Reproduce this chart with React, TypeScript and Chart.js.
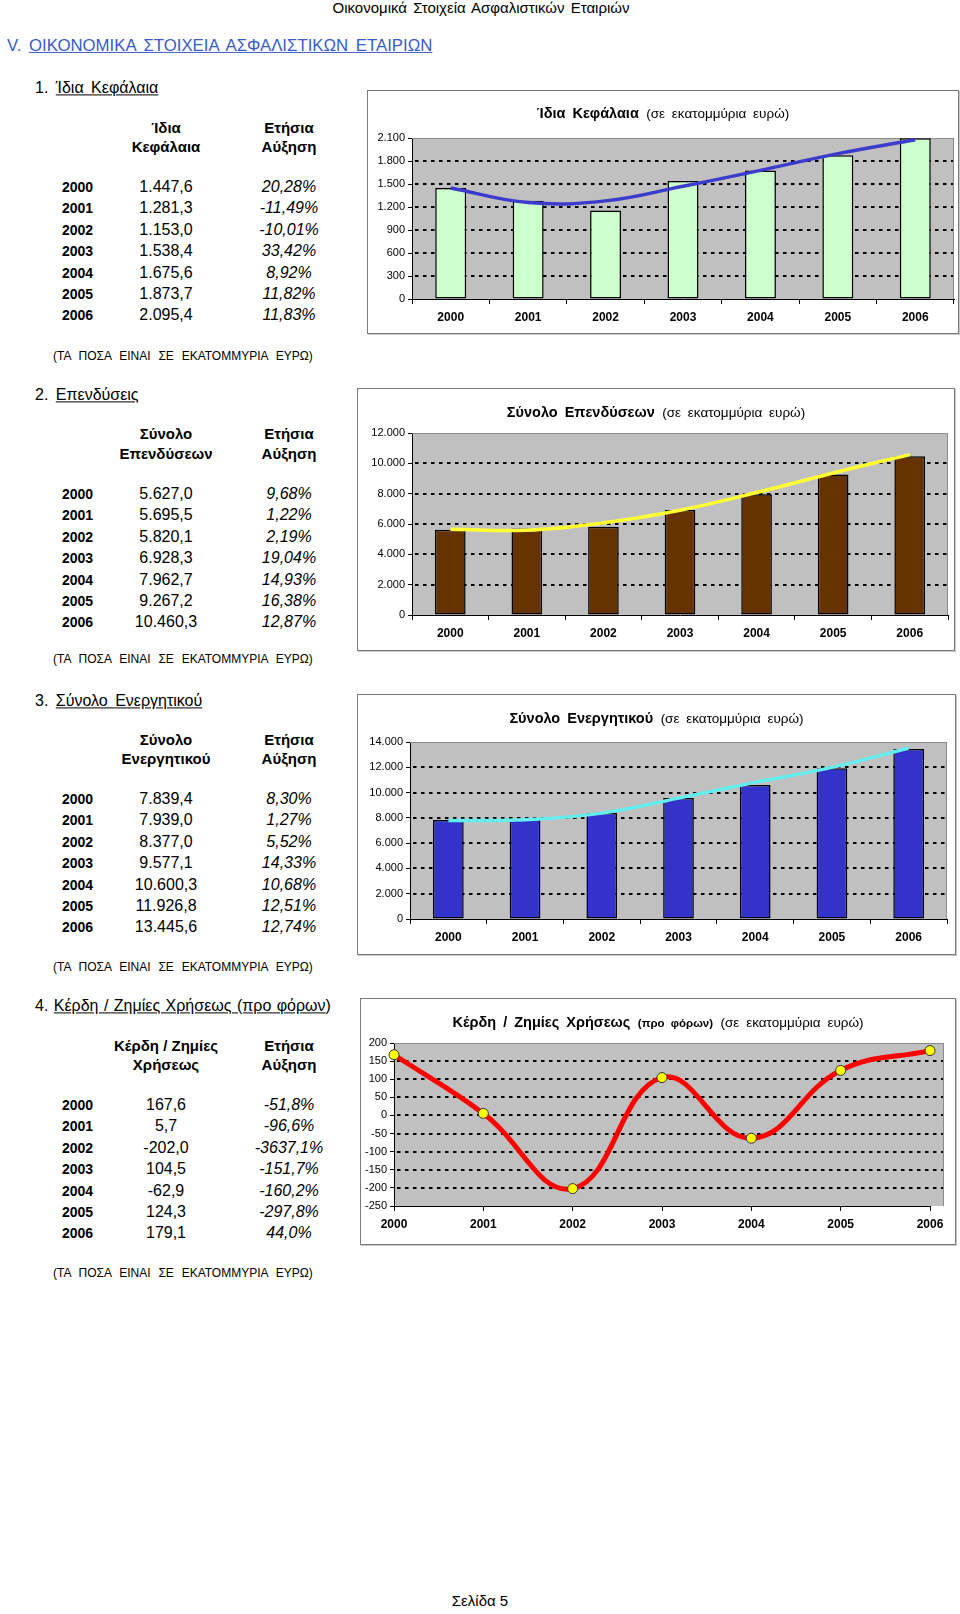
import React, { useEffect, useRef } from 'react';
import { Chart, registerables } from 'chart.js';

Chart.register(...registerables);

// ---------------- DATA ----------------
const years = ['2000', '2001', '2002', '2003', '2004', '2005', '2006'];

const equity = [1447.6, 1281.3, 1153.0, 1538.4, 1675.6, 1873.7, 2095.4];
const equityGrowth = [20.28, -11.49, -10.01, 33.42, 8.92, 11.82, 11.83];
const equityTrend = [1448, 1258, 1280, 1470, 1678, 1896, 2078];
const equityAxis = [0, 2100, 300];

const investments = [5627.0, 5695.5, 5820.1, 6928.3, 7962.7, 9267.2, 10460.3];
const investmentsGrowth = [9.68, 1.22, 2.19, 19.04, 14.93, 16.38, 12.87];
const investmentsTrend = [5660, 5594, 6077, 6910, 8073, 9367, 10574];
const investmentsAxis = [0, 12000, 2000];

const assets = [7839.4, 7939.0, 8377.0, 9577.1, 10600.3, 11926.8, 13445.6];
const assetsGrowth = [8.3, 1.27, 5.52, 14.33, 10.68, 12.51, 12.74];
const assetsTrend = [7792, 7845, 8373, 9562, 10804, 11992, 13524];
const assetsAxis = [0, 14000, 2000];

const profits = [167.6, 5.7, -202.0, 104.5, -62.9, 124.3, 179.1];
const profitsGrowth = [-51.8, -96.6, -3637.1, -151.7, -160.2, -297.8, 44.0];
const profitsAxis = [-250, 200, 50];

// ---------------- HELPERS ----------------
const FONT = '"Liberation Sans", Arial, Helvetica, sans-serif';

function fmt(v: number, dec: number, group = true): string {
  const neg = v < 0;
  const s = Math.abs(v).toFixed(dec);
  const [i, d] = s.split('.');
  const ii = group ? i.replace(/\B(?=(\d{3})+(?!\d))/g, '.') : i;
  return (neg ? '-' : '') + ii + (d ? ',' + d : '');
}

const plotBg = {
  id: 'plotBg',
  beforeDraw(chart: any, _args: any, opts: any) {
    const { ctx, chartArea: a } = chart;
    const ext = (opts && opts.extendRight) || 0;
    ctx.save();
    ctx.fillStyle = '#c0c0c0';
    ctx.fillRect(a.left, a.top, a.right + ext - a.left, a.bottom - a.top);
    ctx.restore();
  },
  beforeDatasetsDraw(chart: any, _args: any, opts: any) {
    const { ctx, chartArea: a } = chart;
    const ext = (opts && opts.extendRight) || 0;
    const y = chart.scales.y;
    ctx.save();
    ctx.strokeStyle = '#000';
    ctx.lineWidth = 2;
    ctx.setLineDash([3.5, 4.5]);
    y.ticks.forEach((t: any) => {
      if (t.value === y.min || t.value === y.max) return;
      const py = Math.round(y.getPixelForValue(t.value));
      ctx.beginPath();
      ctx.moveTo(a.left + 3, py);
      ctx.lineTo(a.right + ext, py);
      ctx.stroke();
    });
    ctx.setLineDash([]);
    ctx.strokeStyle = '#8a8a8a';
    ctx.lineWidth = 1;
    ctx.beginPath();
    ctx.moveTo(a.left, Math.round(a.top) + 0.5);
    ctx.lineTo(a.right + ext, Math.round(a.top) + 0.5);
    ctx.moveTo(Math.round(a.right + ext) - 0.5, a.top);
    ctx.lineTo(Math.round(a.right + ext) - 0.5, a.bottom);
    ctx.stroke();
    ctx.restore();
  },
};

type Geo = {
  x: number; y: number; w: number; h: number;
  yWidth: number; padTop: number; padRight: number; xHeight: number;
  titleY: number; extendRight?: number;
};

function baseOptions(g: Geo, axis: number[], offset: boolean) {
  return {
    responsive: false,
    animation: false,
    devicePixelRatio: 1,
    layout: { padding: { top: g.padTop, right: g.padRight, left: 0, bottom: 0 } },
    plugins: {
      legend: { display: false },
      tooltip: { enabled: false },
      title: { display: false },
      plotBg: { extendRight: g.extendRight || 0 },
    },
    scales: {
      x: {
        type: 'category',
        offset,
        grid: { display: true, drawOnChartArea: false, drawTicks: true, tickLength: 5, color: '#000', offset },
        border: { display: true, color: '#000', width: 1 },
        ticks: { color: '#000', font: { family: FONT, size: 12, weight: 'bold' }, padding: 6, maxRotation: 0, autoSkip: false },
        afterFit: (s: any) => { s.height = g.xHeight; },
      },
      y: {
        min: axis[0],
        max: axis[1],
        grid: { display: true, drawOnChartArea: false, drawTicks: true, tickLength: 4, color: '#000' },
        border: { display: true, color: '#000', width: 1 },
        ticks: {
          stepSize: axis[2],
          color: '#000',
          font: { family: FONT, size: 11 },
          padding: 3,
          callback: (v: any) => fmt(Number(v), 0),
        },
        afterFit: (s: any) => { s.width = g.yWidth; },
      },
    },
  };
}

function barConfig(g: Geo, values: number[], trend: number[], axis: number[], barColor: string, trendColor: string) {
  return {
    type: 'bar',
    data: {
      labels: years,
      datasets: [
        {
          type: 'line', data: trend, borderColor: trendColor, borderWidth: 3.5, pointRadius: 0,
          tension: 0.4, fill: false, order: 1, clip: false,
        },
        {
          type: 'bar', data: values, backgroundColor: barColor, borderColor: '#000', borderWidth: 1.5,
          borderSkipped: false, barPercentage: 0.4, categoryPercentage: 1, order: 2,
        },
      ],
    },
    options: baseOptions(g, axis, true),
    plugins: [plotBg],
  };
}

function lineConfig(g: Geo) {
  return {
    type: 'line',
    data: {
      labels: years,
      datasets: [
        {
          data: profits, borderColor: '#ff0000', borderWidth: 5, tension: 0.42, fill: false,
          pointRadius: 5, pointBackgroundColor: '#ffff00', pointBorderColor: '#333333', pointBorderWidth: 1,
          clip: false,
        },
      ],
    },
    options: baseOptions(g, profitsAxis, false),
    plugins: [plotBg],
  };
}

function ChartBox({ g, title, build }: { g: Geo; title: React.ReactNode; build: () => any }) {
  const ref = useRef<HTMLCanvasElement | null>(null);
  useEffect(() => {
    const c = new Chart(ref.current as any, build());
    return () => c.destroy();
  }, []);
  return (
    <>
      <canvas
        ref={ref}
        width={g.w}
        height={g.h}
        style={{ position: 'absolute', left: g.x, top: g.y, width: g.w, height: g.h }}
      />
      <div
        style={{
          position: 'absolute', left: g.x, top: g.y, width: g.w, height: g.h,
          border: '1px solid #7a7a7a', boxSizing: 'border-box', pointerEvents: 'none',
          boxShadow: '1px 1px 0 #c8c8c8',
        }}
      />
      <div
        style={{
          position: 'absolute', left: g.x, width: g.w, top: g.y + g.titleY, transform: 'translateY(-50%)',
          textAlign: 'center', whiteSpace: 'nowrap', fontFamily: FONT, color: '#000', lineHeight: 1.2,
          wordSpacing: 3,
        }}
      >
        {title}
      </div>
    </>
  );
}

function T({ x, y, align = 'left', style, children }: any) {
  const tx = align === 'center' ? '-50%' : align === 'right' ? '-100%' : '0';
  return (
    <div
      style={{
        position: 'absolute', left: x, top: y, transform: `translate(${tx}, -50%)`,
        whiteSpace: 'nowrap', fontFamily: FONT, color: '#000', lineHeight: 1.2, ...style,
      }}
    >
      {children}
    </div>
  );
}

type Sec = {
  num: string; name: string; tail?: string; ws: number;
  h1: string[]; titleY: number; headY: number[]; row0: number; footY: number;
  values: number[]; growth: number[]; gdec: number;
};

function Section({ s }: { s: Sec }) {
  const step = 21.4;
  return (
    <>
      <T x={35} y={s.titleY} style={{ fontSize: 16, wordSpacing: s.ws }}>
        {s.num}{' '}<span style={{ textDecoration: 'underline' }}>{s.name}</span>{s.tail || ''}
      </T>
      <T x={166} y={s.headY[0]} align="center" style={{ fontSize: 15, fontWeight: 'bold' }}>{s.h1[0]}</T>
      <T x={166} y={s.headY[1]} align="center" style={{ fontSize: 15, fontWeight: 'bold' }}>{s.h1[1]}</T>
      <T x={289} y={s.headY[0]} align="center" style={{ fontSize: 15, fontWeight: 'bold' }}>Ετήσια</T>
      <T x={289} y={s.headY[1]} align="center" style={{ fontSize: 15, fontWeight: 'bold' }}>Αύξηση</T>
      {years.map((yr, i) => (
        <React.Fragment key={yr}>
          <T x={62} y={s.row0 + i * step} style={{ fontSize: 14, fontWeight: 'bold' }}>{yr}</T>
          <T x={166} y={s.row0 + i * step} align="center" style={{ fontSize: 16 }}>{fmt(s.values[i], 1)}</T>
          <T x={289} y={s.row0 + i * step} align="center" style={{ fontSize: 16, fontStyle: 'italic' }}>
            {fmt(s.growth[i], s.gdec, false)}%
          </T>
        </React.Fragment>
      ))}
      <T x={53} y={s.footY} style={{ fontSize: 12, wordSpacing: 4.5 }}>(ΤΑ ΠΟΣΑ ΕΙΝΑΙ ΣΕ ΕΚΑΤΟΜΜΥΡΙΑ ΕΥΡΩ)</T>
    </>
  );
}

const g1: Geo = { x: 367, y: 90, w: 592, h: 244, yWidth: 45, padTop: 48, padRight: 5, xHeight: 35, titleY: 23 };
const g2: Geo = { x: 357, y: 388, w: 598, h: 263, yWidth: 55, padTop: 45, padRight: 7, xHeight: 36, titleY: 24 };
const g3: Geo = { x: 357, y: 694, w: 599, h: 261, yWidth: 53, padTop: 48, padRight: 9, xHeight: 36, titleY: 24 };
const g4: Geo = { x: 360, y: 998, w: 596, h: 247, yWidth: 34, padTop: 45, padRight: 26, xHeight: 39, titleY: 24, extendRight: 14 };

const sections: Sec[] = [
  { num: '1.', name: 'Ίδια Κεφάλαια', ws: 3, h1: ['Ίδια', 'Κεφάλαια'], titleY: 88, headY: [128, 147], row0: 187, footY: 356, values: equity, growth: equityGrowth, gdec: 2 },
  { num: '2.', name: 'Επενδύσεις', ws: 3, h1: ['Σύνολο', 'Επενδύσεων'], titleY: 395, headY: [434, 454], row0: 494, footY: 659, values: investments, growth: investmentsGrowth, gdec: 2 },
  { num: '3.', name: 'Σύνολο Ενεργητικού', ws: 3, h1: ['Σύνολο', 'Ενεργητικού'], titleY: 701, headY: [740, 759], row0: 799, footY: 967, values: assets, growth: assetsGrowth, gdec: 2 },
  { num: '4.', name: 'Κέρδη / Ζημίες Χρήσεως (προ φόρων', tail: ')', ws: 1, h1: ['Κέρδη / Ζημίες', 'Χρήσεως'], titleY: 1006, headY: [1046, 1065], row0: 1105, footY: 1273, values: profits, growth: profitsGrowth, gdec: 1 },
];

const small = { fontWeight: 'normal', fontSize: 13.5 } as const;
const big = { fontWeight: 'bold', fontSize: 14.5 } as const;

export default function App() {
  return (
    <div style={{ position: 'absolute', left: 0, top: 0, width: 960, height: 1614, background: '#fff', overflow: 'hidden' }}>
      <T x={481} y={8} align="center" style={{ fontSize: 15, wordSpacing: 2 }}>Οικονομικά Στοιχεία Ασφαλιστικών Εταιριών</T>
      <T x={7} y={46} style={{ fontSize: 16.8, color: '#3a5bc8', wordSpacing: 3 }}>
        V.{' '}<span style={{ textDecoration: 'underline' }}>ΟΙΚΟΝΟΜΙΚΑ ΣΤΟΙΧΕΙΑ ΑΣΦΑΛΙΣΤΙΚΩΝ ΕΤΑΙΡΙΩΝ</span>
      </T>

      {sections.map((s) => <Section key={s.num} s={s} />)}

      <ChartBox
        g={g1}
        title={<><span style={big}>Ίδια Κεφάλαια</span> <span style={small}>(σε εκατομμύρια ευρώ)</span></>}
        build={() => barConfig(g1, equity, equityTrend, equityAxis, '#ccffcc', '#3b3bcc')}
      />
      <ChartBox
        g={g2}
        title={<><span style={big}>Σύνολο Επενδύσεων</span> <span style={small}>(σε εκατομμύρια ευρώ)</span></>}
        build={() => barConfig(g2, investments, investmentsTrend, investmentsAxis, '#663300', '#ffff33')}
      />
      <ChartBox
        g={g3}
        title={<><span style={big}>Σύνολο Ενεργητικού</span> <span style={small}>(σε εκατομμύρια ευρώ)</span></>}
        build={() => barConfig(g3, assets, assetsTrend, assetsAxis, '#3333cc', '#66eeee')}
      />
      <ChartBox
        g={g4}
        title={<><span style={big}>Κέρδη / Ζημίες Χρήσεως</span> <span style={{ fontSize: 11.5, fontWeight: 'bold' }}>(προ φόρων)</span> <span style={small}>(σε εκατομμύρια ευρώ)</span></>}
        build={() => lineConfig(g4)}
      />

      <T x={480} y={1601} align="center" style={{ fontSize: 15 }}>Σελίδα 5</T>
    </div>
  );
}
